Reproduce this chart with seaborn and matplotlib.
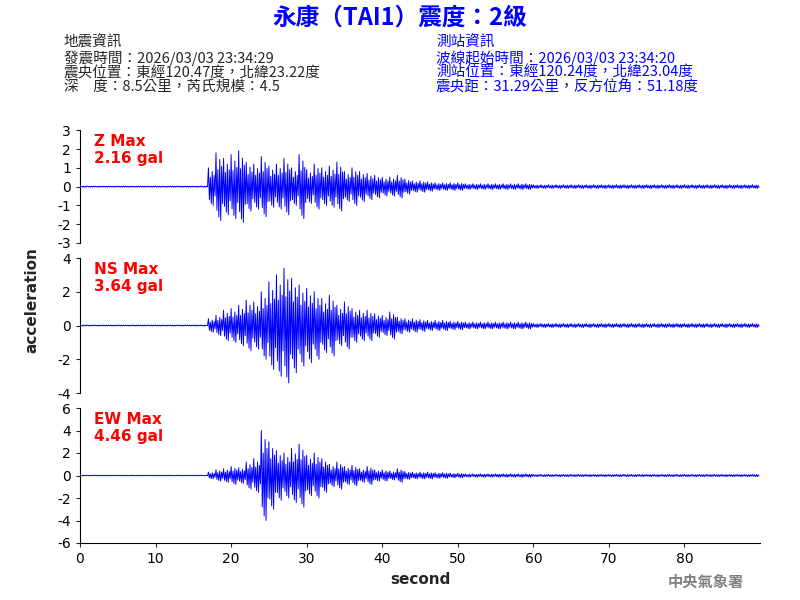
import numpy as np
import matplotlib
matplotlib.use("Agg")
import matplotlib.pyplot as plt
import seaborn as sns

sns.set_style("white")
plt.rcParams['font.family'] = ['Noto Sans CJK TC', 'DejaVu Sans']

# peak amplitude per second (gal)
quiet = [0.03] * 17
z_amp = quiet + [1.0, 1.8, 1.5, 1.7, 1.9, 1.3, 1.2, 1.6, 1.1, 1.2, 1.5, 1.0, 1.7, 0.9,
                 1.2, 1.0, 1.1, 1.3, 0.8, 1.0, 0.8, 0.7, 0.6, 0.5, 0.5, 0.6, 0.4, 0.3,
                 0.3, 0.25, 0.2, 0.2, 0.2, 0.2] + [0.15] * 9 + [0.1] * 30
ns_amp = quiet + [0.4, 0.6, 0.9, 1.0, 1.2, 1.5, 1.4, 2.0, 2.6, 3.0, 3.4, 2.8, 2.4, 2.2,
                  2.0, 1.6, 1.8, 1.2, 1.4, 1.0, 0.9, 0.9, 0.7, 0.6, 0.8, 0.5, 0.4, 0.4,
                  0.35, 0.3, 0.3, 0.3, 0.25, 0.25] + [0.2] * 9 + [0.12] * 30
ew_amp = quiet + [0.3, 0.5, 0.6, 0.8, 0.7, 1.2, 1.5, 4.0, 3.0, 2.2, 2.0, 2.4, 2.8, 1.8,
                  2.0, 1.5, 1.0, 1.2, 0.8, 0.9, 0.6, 0.8, 0.5, 0.5, 0.4, 0.6, 0.35, 0.3,
                  0.3, 0.3, 0.25, 0.25, 0.2, 0.2] + [0.15] * 9 + [0.1] * 30
shape = [1, -0.7, 0.5, -0.9, 0.8, -1, 0.6, -0.5]

channels = [("Z Max\n2.16 gal", z_amp, 3, [-3, -2, -1, 0, 1, 2, 3]),
            ("NS Max\n3.64 gal", ns_amp, 4, [-4, -2, 0, 2, 4]),
            ("EW Max\n4.46 gal", ew_amp, 6, [-6, -4, -2, 0, 2, 4, 6])]
boxes = [[0.1, 0.595, 0.85, 0.188], [0.1, 0.345, 0.85, 0.225], [0.1, 0.095, 0.85, 0.225]]

fig = plt.figure(figsize=(8, 6), dpi=100)
for i, ((label, amp, lim, ticks), box) in enumerate(zip(channels, boxes)):
    ax = fig.add_axes(box)
    t, v = [], []
    for sec, a in enumerate(amp):
        for k, s in enumerate(shape):
            t.append(sec + k / len(shape))
            v.append(a * s)
    sns.lineplot(x=t, y=v, ax=ax, color='blue', linewidth=0.7, estimator=None)
    ax.set_xlim(0, 90)
    ax.set_ylim(-lim, lim)
    ax.set_yticks(ticks)
    ax.set_yticklabels([str(x) for x in ticks], family=['DejaVu Sans'], fontsize=10,
                       color='black')
    ax.tick_params(axis='y', direction='out', length=3, left=True)
    for sp in ['top', 'right']:
        ax.spines[sp].set_visible(False)
    ax.spines['left'].set_color('black')
    ax.text(0.02, 0.97, label, transform=ax.transAxes, color='red', fontsize=11,
            va='top', family=['DejaVu Sans'], weight='bold')
    if i < 2:
        ax.spines['bottom'].set_visible(False)
        ax.set_xticks([])
    else:
        ax.spines['bottom'].set_color('black')
        ax.set_xticks(range(0, 90, 10))
        ax.set_xticklabels([str(x) for x in range(0, 90, 10)], family=['DejaVu Sans'],
                           fontsize=10, color='black')
        ax.tick_params(axis='x', direction='out', length=3, bottom=True)
        ax.set_xlabel('second', fontsize=11, family=['DejaVu Sans'], weight='bold')

fig.text(0.04, 0.5, 'acceleration', rotation=90, va='center', ha='center', fontsize=11,
         family=['DejaVu Sans'], weight='bold')
fig.text(0.5, 0.97, '永康（TAI1）震度：2級', color='blue', fontsize=17, weight='bold',
         ha='center', va='center')
left = "地震資訊\n發震時間：2026/03/03 23:34:29\n震央位置：東經120.47度，北緯23.22度\n深　度：8.5公里，芮氏規模：4.5"
right = "測站資訊\n波線起始時間：2026/03/03 23:34:20\n測站位置：東經120.24度，北緯23.04度\n震央距：31.29公里，反方位角：51.18度"
fig.text(0.08, 0.94, left, fontsize=10.5, va='top', linespacing=1.0)
fig.text(0.545, 0.94, right, fontsize=10.5, va='top', linespacing=1.0, color='blue')
fig.text(0.93, 0.03, '中央氣象署', color='gray', fontsize=11, ha='right', va='center',
         weight='bold')
fig.savefig('out.png', dpi=100)
